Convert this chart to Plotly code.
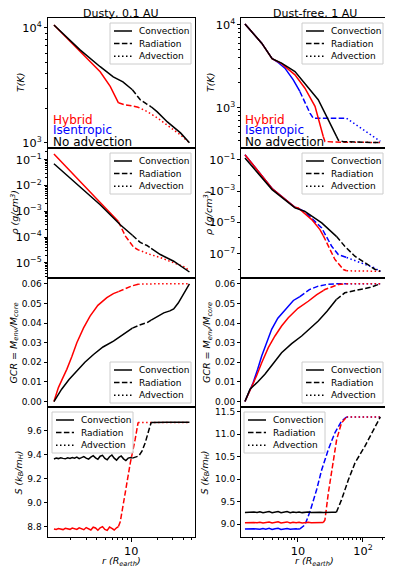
import plotly.graph_objects as go
from plotly.subplots import make_subplots

RED = "#ff0000"
BLUE = "#0000ff"
BLACK = "#000000"
FONT = "DejaVu Sans"

# ---------------- Dusty, 0.1 AU (left column) ----------------
# radius (R_earth) where each model changes zone, and how each zone is drawn
dusty_noadv_edges = [10.3, 17.0]
dusty_noadv_styles = ["solid", "dash", "solid"]
dusty_hybrid_edges = [7.1, 12.0]
dusty_hybrid_styles = ["solid", "dash", "dot"]

dusty_noadv_T_r = [1.27, 1.8, 2.55, 4.36, 6.18, 8.0, 10.3, 12.7, 15.0, 17.0, 20.0, 26.2, 37.2, 47.2]
dusty_noadv_T = [10600, 8200, 6450, 4600, 3750, 3390, 2900, 2370, 2180, 2060, 1860, 1520, 1220, 1000]
dusty_hybrid_T_r = [1.27, 1.8, 2.55, 4.36, 5.7, 7.1, 8.5, 10.0, 12.0, 15.2, 20.0, 26.2, 37.2, 47.2]
dusty_hybrid_T = [10600, 8150, 6200, 4160, 3100, 2230, 2140, 2100, 2040, 1875, 1650, 1430, 1170, 1000]

dusty_noadv_rho_r = [1.27, 2.55, 4.36, 7.45, 10.3, 12.7, 15.2, 17.0, 21.7, 31.0, 47.2]
dusty_noadv_rho = [7.0e-2, 8.5e-3, 1.8e-3, 3.0e-4, 1.17e-4, 6.2e-5, 4.7e-5, 3.6e-5, 2.1e-5, 1.15e-5, 4.4e-6]
dusty_hybrid_rho_r = [1.27, 2.55, 4.36, 7.1, 8.5, 10.6, 12.0, 16.6, 21.7, 26.0, 42.6, 47.2]
dusty_hybrid_rho = [0.166, 1.38e-2, 2.19e-3, 3.98e-4, 1.12e-4, 4.1e-5, 3.2e-5, 2.1e-5, 1.6e-5, 1.26e-5, 6.6e-6, 4.7e-6]

dusty_noadv_gcr_r = [1.27, 1.56, 1.9, 2.34, 2.9, 3.65, 4.7, 6.22, 8.0, 10.3, 12.5, 15.2, 17.0, 20.0,
                     23.8, 28.0, 31.0, 35.0, 40.0, 47.2]
dusty_noadv_gcr = [0.0, 0.0063, 0.0112, 0.0156, 0.0200, 0.0240, 0.0278, 0.0308, 0.0340, 0.0374, 0.0390,
                   0.0402, 0.0415, 0.0432, 0.0452, 0.0462, 0.0472, 0.0502, 0.0545, 0.0600]
dusty_hybrid_gcr_r = [1.27, 1.35, 1.43, 1.6, 1.79, 2.05, 2.34, 2.8, 3.33, 4.1, 5.21, 6.2, 7.1, 8.13,
                      10.0, 12.0, 15.0, 20.0, 47.2]
dusty_hybrid_gcr = [0.0, 0.0035, 0.0071, 0.0118, 0.0164, 0.0230, 0.0300, 0.0375, 0.0435, 0.0490, 0.0529,
                    0.0550, 0.0560, 0.0571, 0.0588, 0.0598, 0.0600, 0.0600, 0.0600]

dusty_noadv_S_r = [1.27, 1.35, 1.43, 1.52, 1.62, 1.72, 1.83, 1.95, 2.07, 2.2,
                   2.34, 2.49, 2.65, 2.82, 3.0, 3.2, 3.4, 3.62, 3.85, 4.1,
                   4.36, 4.64, 4.94, 5.26, 5.6, 5.96, 6.34, 6.75, 7.18, 7.64,
                   8.13, 8.65, 9.2, 9.8, 10.3, 12.2, 13.3, 14.5, 15.9, 17.0,
                   20.0, 26.0, 35.0, 47.2]
dusty_noadv_S = [9.365, 9.372, 9.368, 9.375, 9.370, 9.366, 9.374, 9.369, 9.377, 9.371,
                 9.380, 9.368, 9.376, 9.385, 9.372, 9.364, 9.380, 9.392, 9.374, 9.362,
                 9.388, 9.395, 9.370, 9.358, 9.384, 9.398, 9.372, 9.355, 9.378, 9.390,
                 9.366, 9.352, 9.372, 9.376, 9.372, 9.39, 9.43, 9.50, 9.60, 9.67,
                 9.672, 9.671, 9.672, 9.671]
dusty_hybrid_S_r = [1.27, 1.35, 1.43, 1.52, 1.62, 1.72, 1.83, 1.95, 2.07, 2.2,
                    2.34, 2.49, 2.65, 2.82, 3.0, 3.2, 3.4, 3.62, 3.85, 4.1,
                    4.36, 4.64, 4.94, 5.26, 5.6, 5.96, 6.34, 6.75, 7.1, 7.45,
                    8.5, 9.73, 11.1, 12.0, 20.0, 30.0, 47.2]
dusty_hybrid_S = [8.780, 8.776, 8.784, 8.779, 8.775, 8.786, 8.781, 8.777, 8.788, 8.782,
                  8.776, 8.790, 8.780, 8.774, 8.792, 8.783, 8.772, 8.795, 8.788, 8.770,
                  8.790, 8.800, 8.776, 8.768, 8.796, 8.785, 8.772, 8.790, 8.800, 8.84,
                  9.08, 9.33, 9.53, 9.67, 9.67, 9.67, 9.67]

# ---------------- Dust-free, 1 AU (right column) ----------------
free_noadv_edges = [39.0]
free_noadv_styles = ["solid", "dash"]
free_hybrid_edges = [24.5, 56.0]
free_hybrid_styles = ["solid", "dash", "dot"]
free_isen_edges = [10.7, 56.0]
free_isen_styles = ["solid", "dash", "dot"]

free_noadv_T_r = [1.53, 2.77, 4.0, 5.6, 9.0, 12.8, 20.5, 29.3, 35.0, 39.0, 42.0, 50.0, 80.0, 130.0, 185.0]
free_noadv_T = [10280, 6030, 3930, 3460, 2740, 1980, 1250, 716, 540, 455, 405, 390, 384, 382, 380]
free_hybrid_T_r = [1.53, 2.77, 4.0, 5.6, 9.0, 12.8, 18.3, 21.8, 24.5, 26.0, 35.0, 56.0, 100.0, 185.0]
free_hybrid_T = [10280, 6030, 3930, 3420, 2500, 1725, 1040, 655, 451, 393, 386, 384, 383, 382]
free_isen_T_r = [1.53, 2.77, 4.0, 5.0, 6.3, 8.47, 10.7, 12.8, 15.3, 17.2, 25.0, 40.0, 56.0, 80.0, 120.0, 185.0]
free_isen_T = [10280, 6030, 3930, 3500, 3010, 2170, 1575, 1140, 863, 751, 748, 748, 748, 621, 497, 393]

free_noadv_rho_r = [1.53, 4.0, 9.0, 12.8, 23.2, 37.0, 39.0, 52.5, 75.0, 120.0, 152.0, 185.0]
free_noadv_rho = [0.129, 1.23e-3, 8.3e-5, 5.0e-5, 9.1e-6, 1.62e-6, 1.26e-6, 2.95e-7, 6.8e-8, 2.0e-8, 1.0e-8, 7.4e-9]
free_hybrid_rho_r = [1.53, 4.0, 9.0, 10.1, 16.3, 21.8, 24.5, 27.6, 37.0, 50.0, 56.0, 100.0, 185.0]
free_hybrid_rho = [0.209, 1.45e-3, 9.1e-5, 8.3e-5, 1.48e-5, 3.4e-6, 1.41e-6, 4.8e-7, 4.2e-8, 9.5e-9, 7.9e-9, 7.6e-9, 7.4e-9]
free_isen_rho_r = [1.53, 4.0, 9.0, 10.7, 12.8, 16.3, 23.2, 33.0, 41.7, 56.0, 95.4, 152.0, 185.0]
free_isen_rho = [0.209, 1.45e-3, 9.1e-5, 7.0e-5, 4.6e-5, 1.8e-5, 4.3e-6, 2.95e-7, 8.7e-8, 5.6e-8, 2.5e-8, 1.2e-8, 7.1e-9]

free_noadv_gcr_r = [1.53, 1.83, 2.4, 3.1, 4.2, 5.6, 8.0, 11.4, 15.0, 20.5, 28.0, 37.1, 39.0, 52.5, 70.0,
                    95.4, 130.0, 185.0]
free_noadv_gcr = [0.0, 0.0063, 0.0100, 0.0139, 0.0195, 0.0249, 0.0295, 0.0334, 0.0370, 0.0410, 0.0460,
                  0.0511, 0.0520, 0.0554, 0.0563, 0.0571, 0.0582, 0.0600]
free_hybrid_gcr_r = [1.53, 1.94, 2.3, 2.77, 3.5, 4.43, 5.6, 7.1, 10.0, 14.4, 19.5, 24.5, 26.0, 41.7, 56.0,
                     185.0]
free_hybrid_gcr = [0.0, 0.0071, 0.0130, 0.0198, 0.0275, 0.0334, 0.0385, 0.0427, 0.0475, 0.0511, 0.0545,
                   0.0565, 0.0571, 0.0596, 0.0600, 0.0600]
free_isen_gcr_r = [1.53, 1.75, 2.05, 2.4, 2.77, 3.3, 3.94, 4.9, 6.31, 8.5, 10.7, 15.0, 20.5, 29.3, 40.0,
                   56.0, 185.0]
free_isen_gcr = [0.0, 0.0045, 0.0097, 0.0165, 0.0232, 0.0300, 0.0368, 0.0425, 0.0469, 0.0515, 0.0535,
                 0.0570, 0.0588, 0.0598, 0.0600, 0.0600, 0.0600]

free_noadv_S_r = [1.53, 1.7, 1.9, 2.1, 2.35, 2.6, 2.9, 3.2, 3.6, 4.0,
                  4.45, 4.95, 5.5, 6.1, 6.8, 7.6, 8.4, 9.4, 10.4, 11.6,
                  12.9, 14.4, 16.0, 17.8, 19.8, 22.0, 24.5, 27.3, 30.4, 33.8,
                  37.0, 39.0, 46.7, 59.4, 75.4, 107.0, 144.0, 185.0]
free_noadv_S = [9.262, 9.268, 9.259, 9.270, 9.262, 9.275, 9.258, 9.272, 9.280, 9.256,
                9.270, 9.284, 9.258, 9.266, 9.280, 9.255, 9.270, 9.262, 9.274, 9.258,
                9.266, 9.270, 9.262, 9.268, 9.260, 9.266, 9.263, 9.268, 9.262, 9.266,
                9.264, 9.266, 9.54, 9.98, 10.36, 10.73, 11.10, 11.38]
free_hybrid_S_r = [1.53, 1.7, 1.9, 2.1, 2.35, 2.6, 2.9, 3.2, 3.6, 4.0,
                   4.45, 4.95, 5.5, 6.1, 6.8, 7.6, 8.4, 9.4, 10.4, 11.6,
                   12.9, 14.4, 16.0, 17.8, 19.8, 22.0, 24.5, 26.0, 29.3, 33.0,
                   39.4, 46.8, 56.0, 100.0, 185.0]
free_hybrid_S = [9.034, 9.038, 9.030, 9.040, 9.033, 9.045, 9.028, 9.042, 9.050, 9.026,
                 9.044, 9.056, 9.028, 9.040, 9.052, 9.026, 9.042, 9.034, 9.046, 9.030,
                 9.038, 9.042, 9.034, 9.038, 9.032, 9.036, 9.036, 9.095, 9.69, 10.21,
                 10.88, 11.25, 11.38, 11.38, 11.38]
free_isen_S_r = [1.53, 1.7, 1.9, 2.1, 2.35, 2.6, 2.9, 3.2, 3.6, 4.0,
                 4.45, 4.95, 5.5, 6.1, 6.8, 7.6, 8.4, 9.4, 10.0, 10.7,
                 12.8, 15.3, 19.4, 23.2, 29.3, 37.0, 46.8, 56.0, 100.0, 185.0]
free_isen_S = [8.893, 8.899, 8.890, 8.902, 8.894, 8.888, 8.905, 8.892, 8.910, 8.886,
               8.900, 8.912, 8.884, 8.898, 8.906, 8.888, 8.896, 8.900, 8.892, 8.896,
               8.985, 9.28, 9.77, 10.21, 10.66, 11.03, 11.29, 11.38, 11.38, 11.38]

DASH = {"solid": "solid", "dash": "5.5px,2.4px", "dot": "1.5px,2.5px"}


def segments(r, y, edges, styles):
    # cut one profile into its convective / radiative / advective pieces
    bounds = [0] + edges + [1e9]
    out = []
    for k, style in enumerate(styles):
        idx = [i for i, v in enumerate(r) if bounds[k] <= v <= bounds[k + 1]]
        if len(idx) > 1:
            out.append(([r[i] for i in idx], [y[i] for i in idx], style))
    return out


dusty_noadv = (dusty_noadv_edges, dusty_noadv_styles, BLACK)
dusty_hybrid = (dusty_hybrid_edges, dusty_hybrid_styles, RED)
free_noadv = (free_noadv_edges, free_noadv_styles, BLACK)
free_hybrid = (free_hybrid_edges, free_hybrid_styles, RED)
free_isen = (free_isen_edges, free_isen_styles, BLUE)

# drawing order per panel: blue, red, black on top
panels = {
    (1, 1): [(dusty_hybrid_T_r, dusty_hybrid_T, dusty_hybrid), (dusty_noadv_T_r, dusty_noadv_T, dusty_noadv)],
    (2, 1): [(dusty_hybrid_rho_r, dusty_hybrid_rho, dusty_hybrid), (dusty_noadv_rho_r, dusty_noadv_rho, dusty_noadv)],
    (3, 1): [(dusty_hybrid_gcr_r, dusty_hybrid_gcr, dusty_hybrid), (dusty_noadv_gcr_r, dusty_noadv_gcr, dusty_noadv)],
    (4, 1): [(dusty_hybrid_S_r, dusty_hybrid_S, dusty_hybrid), (dusty_noadv_S_r, dusty_noadv_S, dusty_noadv)],
    (1, 2): [(free_isen_T_r, free_isen_T, free_isen), (free_hybrid_T_r, free_hybrid_T, free_hybrid),
             (free_noadv_T_r, free_noadv_T, free_noadv)],
    (2, 2): [(free_isen_rho_r, free_isen_rho, free_isen), (free_hybrid_rho_r, free_hybrid_rho, free_hybrid),
             (free_noadv_rho_r, free_noadv_rho, free_noadv)],
    (3, 2): [(free_isen_gcr_r, free_isen_gcr, free_isen), (free_hybrid_gcr_r, free_hybrid_gcr, free_hybrid),
             (free_noadv_gcr_r, free_noadv_gcr, free_noadv)],
    (4, 2): [(free_isen_S_r, free_isen_S, free_isen), (free_hybrid_S_r, free_hybrid_S, free_hybrid),
             (free_noadv_S_r, free_noadv_S, free_noadv)],
}

fig = make_subplots(rows=4, cols=2, shared_xaxes=True, vertical_spacing=0, horizontal_spacing=0.138)

for (row, col), curves in panels.items():
    for r, y, (edges, styles, color) in curves:
        for rs, ys, style in segments(r, y, edges, styles):
            fig.add_trace(go.Scatter(x=rs, y=ys, mode="lines", showlegend=False, hoverinfo="skip",
                                     line=dict(color=color, width=1.5, dash=DASH[style])),
                          row=row, col=col)

tickfont = dict(family=FONT, size=9, color="black")
axis_common = dict(showline=True, mirror=True, linecolor="black", linewidth=1, showgrid=False,
                   zeroline=False, ticks="outside", ticklen=3.5, tickcolor="black", tickfont=tickfont)
minor_log = dict(ticks="outside", ticklen=2, tickcolor="black", showgrid=False)

fig.update_xaxes(type="log", dtick=1, exponentformat="power", minor=dict(minor_log, dtick="D1"), **axis_common)
fig.update_xaxes(range=[0.035, 1.733], col=1)
fig.update_xaxes(range=[0.131, 2.385], col=2)
for c in (1, 2):
    for rr in (1, 2, 3):
        fig.update_xaxes(ticks="", minor=dict(ticks=""), row=rr, col=c)

fig.update_yaxes(**axis_common)
fig.update_yaxes(type="log", dtick=1, exponentformat="power", minor=dict(minor_log, dtick="D1"), row=1)
fig.update_yaxes(range=[2.957, 4.087], row=1, col=1)
fig.update_yaxes(range=[2.518, 4.084], row=1, col=2)
fig.update_yaxes(type="log", exponentformat="power", row=2)
fig.update_yaxes(range=[-5.57, -0.535], dtick=1, minor=dict(minor_log, dtick="D1"), row=2, col=1)
fig.update_yaxes(range=[-8.53, -0.234], dtick=2, tick0=-1, minor=dict(minor_log, dtick=1), row=2, col=2)
fig.update_yaxes(range=[-0.0029, 0.0632], dtick=0.01, tickformat=".2f", row=3)
fig.update_yaxes(range=[8.713, 9.797], dtick=0.2, tick0=8.8, tickformat=".1f", row=4, col=1)
fig.update_yaxes(range=[8.717, 11.596], dtick=0.5, tick0=9.0, tickformat=".1f", row=4, col=2)


# page pixel -> paper coordinates (plot area spans x 48..388, y 18..537 of the page)
def X(px):
    return (px - 48) / 340


def Y(py):
    return (537 - py) / 519


label_font = dict(family=FONT, size=9.5, color="black")
ylabels = ["<i>T(K)</i>", "<i>ρ (g/cm<sup>3</sup>)</i>",
           "<i>GCR = M<sub>env</sub>/M<sub>core</sub></i>", "<i>S (k<sub>B</sub>/m<sub>H</sub>)</i>"]
ylabel_x = [(20, 210), (14.5, 208), (14.5, 208), (19, 205)]
row_mid = [83, 213, 343, 472.5]
for lab, (xl, xr), ym in zip(ylabels, ylabel_x, row_mid):
    for xx in (xl, xr):
        fig.add_annotation(text=lab, xref="paper", yref="paper", x=X(xx), y=Y(ym), textangle=-90,
                           xanchor="center", yanchor="middle", showarrow=False, font=label_font)
for cx in (121, 314):
    fig.add_annotation(text="<i>r (R<sub>earth</sub>)</i>", xref="paper", yref="paper", x=X(cx), y=Y(561.5),
                       xanchor="center", yanchor="middle", showarrow=False, font=label_font)

key_items = [("Convection", "solid"), ("Radiation", "dash"), ("Advection", "dot")]
key_boxes = [(110, 23), (302, 23), (110, 153), (302, 153), (110, 362), (302, 362), (52, 412), (244, 412)]
for bx, by in key_boxes:
    fig.add_shape(type="rect", xref="paper", yref="paper", x0=X(bx), x1=X(bx + 81), y0=Y(by), y1=Y(by + 41),
                  line=dict(color="#cccccc", width=1), fillcolor="rgba(255,255,255,0.8)", layer="above")
    for k, (name, style) in enumerate(key_items):
        yy = by + 8 + 12.6 * k
        fig.add_shape(type="line", xref="paper", yref="paper", x0=X(bx + 4), x1=X(bx + 22), y0=Y(yy), y1=Y(yy),
                      line=dict(color="black", width=1.5, dash=DASH[style]), layer="above")
        fig.add_annotation(text=name, xref="paper", yref="paper", x=X(bx + 27), y=Y(yy), xanchor="left",
                           yanchor="middle", showarrow=False, font=dict(family=FONT, size=9, color="black"))

# model names inside the temperature panels
for x0 in (51, 243):
    for label, color, yy in [("Hybrid", RED, 119.5), ("Isentropic", BLUE, 130.5), ("No advection", BLACK, 142)]:
        fig.add_annotation(text=label, xref="paper", yref="paper", x=X(x0), y=Y(yy), xanchor="left",
                           yanchor="middle", showarrow=False, font=dict(family=FONT, size=12, color=color))

for title, cx in [("Dusty, 0.1 AU", 121), ("Dust-free, 1 AU", 315)]:
    fig.add_annotation(text=title, xref="paper", yref="paper", x=X(cx), y=Y(14), xanchor="center",
                       yanchor="middle", showarrow=False, font=dict(family=FONT, size=11, color="black"))

# the page adds an 8 px body margin, so the figure is 8 px smaller on each axis
fig.update_layout(width=385, height=564, margin=dict(l=40, r=5, t=10, b=35),
                  paper_bgcolor="white", plot_bgcolor="white", showlegend=False,
                  font=dict(family=FONT, size=9, color="black"))

fig.write_html("out.html")
